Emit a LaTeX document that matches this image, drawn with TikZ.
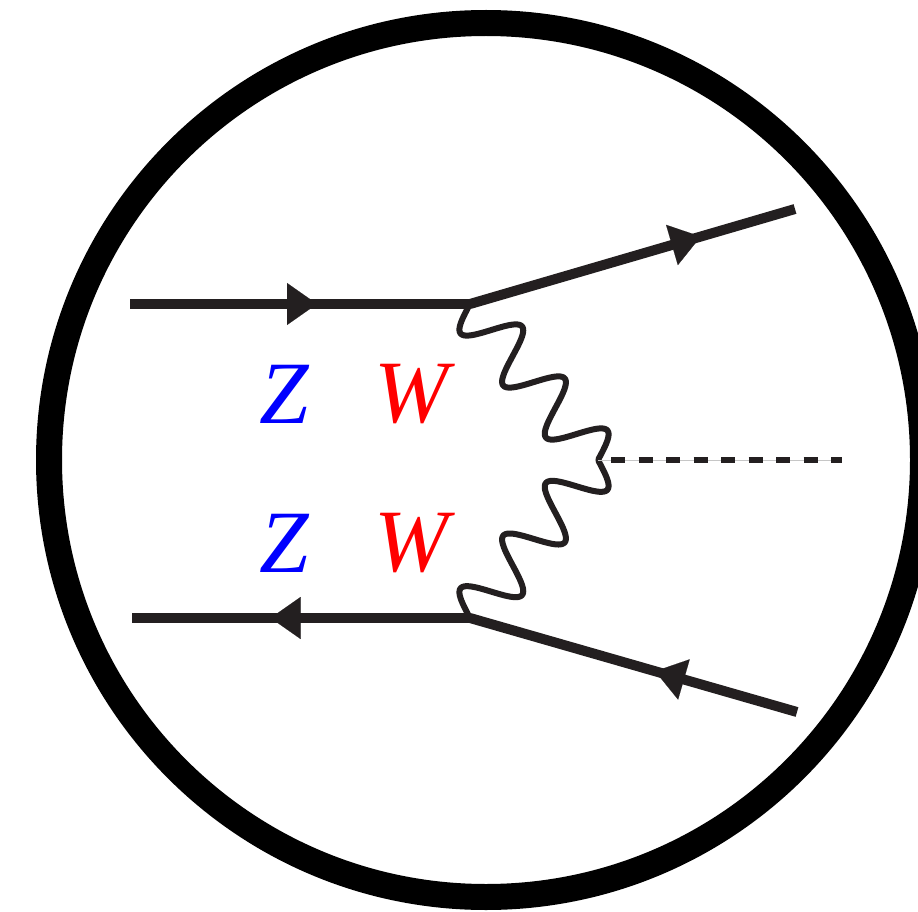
\documentclass[tikz,border=0pt]{standalone}
\usepackage{fontspec}
\setmainfont{Liberation Serif}
\usetikzlibrary{arrows.meta,decorations.markings}
\definecolor{ink}{RGB}{35,31,32}
\tikzset{
  fermion/.style={draw=ink,line width=10pt,postaction={decorate},
    decoration={markings,mark=at position #1 with {\arrow[line width=0.1pt,ink]{Triangle[length=30pt,width=42pt]}}}},
  photon/.style={draw=ink,line width=6pt,line cap=round,samples=150,domain=0:1},
  higgs/.style={draw=ink,line width=6pt,dash pattern=on 14pt off 13.5pt,dash phase=14.5pt},
  boson/.style={font=\fontsize{89}{89}\selectfont\itshape,inner sep=0pt}
}
\begin{document}
\begin{tikzpicture}[x=1pt,y=-1pt,line join=round]
	\useasboundingbox (0,0) rectangle (918,912);
	\clip (0,0) rectangle (918,912);
	% blob
	\draw[line width=26pt] (486,460) circle[radius=437pt];
	% vertices and ends
	\coordinate (v1) at (470,304);
	\coordinate (v2) at (470,618);
	\coordinate (mid) at (598,460);
	\coordinate (in1) at (130,304);
	\coordinate (in2) at (132,618);
	\coordinate (out1) at (795,209);
	\coordinate (out2) at (797,712);
	\coordinate (hend) at (842,460);
	% fermions
	\draw[fermion=0.55] (in1) -- (v1);
	\draw[fermion=0.71] (v1) -- (out1);
	\draw[fermion=0.59] (v2) -- (in2);
	\draw[fermion=0.434] (out2) -- (v2);
	% gauge bosons, three wiggles from each vertex to mid
	\draw[photon] plot ({470+128*\x-20.1*sin(1080*\x)},{304+156*\x+16.5*sin(1080*\x)});
	\draw[photon] plot ({470+128*\x-20.1*sin(1080*\x)},{618-158*\x-16.5*sin(1080*\x)});
	% scalar
	\draw[gray!45,line width=0.8pt] (mid) -- (hend);
	\draw[higgs] (mid) -- (hend);
	% labels
	\node[boson,text=blue] (z1) at (284,394) {Z};
	\node[boson,text=red] (w1) at (412,394) {W};
	\node[boson,text=blue] (z2) at (284,543) {Z};
	\node[boson,text=red] (w2) at (412,543) {W};
\end{tikzpicture}
\end{document}
